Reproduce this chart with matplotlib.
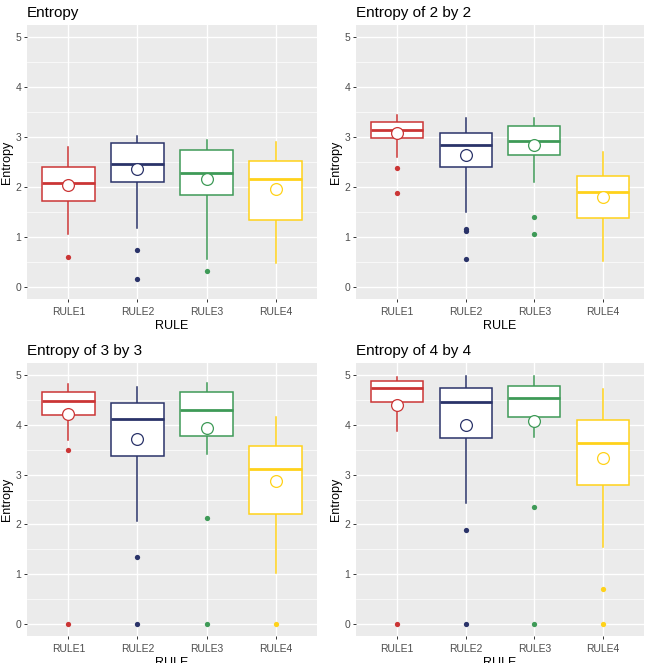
import numpy as np
import matplotlib.pyplot as plt

plt.rcParams['font.family'] = ['Liberation Sans', 'DejaVu Sans']

rules = ['RULE1', 'RULE2', 'RULE3', 'RULE4']
titles = ['Entropy', 'Entropy of 2 by 2', 'Entropy of 3 by 3', 'Entropy of 4 by 4']
colors = ['#CB3535', '#2A3369', '#3E9A57', '#FFD21A']

# one row per panel, one value per rule
whisker_low = [[1.06, 1.17, 0.56, 0.47],
               [2.60, 1.50, 2.10, 0.52],
               [3.69, 2.06, 3.42, 1.01],
               [3.89, 2.43, 3.76, 1.54]]
q1 = [[1.72, 2.10, 1.83, 1.34],
      [2.98, 2.39, 2.64, 1.38],
      [4.21, 3.37, 3.77, 2.21],
      [4.47, 3.74, 4.16, 2.80]]
medians = [[2.08, 2.46, 2.27, 2.15],
           [3.15, 2.84, 2.92, 1.90],
           [4.48, 4.12, 4.31, 3.12],
           [4.74, 4.46, 4.55, 3.63]]
q3 = [[2.39, 2.89, 2.75, 2.52],
      [3.30, 3.08, 3.22, 2.21],
      [4.67, 4.45, 4.66, 3.57],
      [4.88, 4.74, 4.79, 4.11]]
whisker_high = [[2.81, 3.03, 2.94, 2.91],
                [3.45, 3.38, 3.38, 2.71],
                [4.83, 4.77, 4.85, 4.16],
                [4.96, 4.99, 4.99, 4.73]]
means = [[2.04, 2.35, 2.15, 1.96],
         [3.09, 2.65, 2.85, 1.79],
         [4.22, 3.72, 3.94, 2.87],
         [4.41, 4.01, 4.08, 3.33]]
outliers = [[[0.60], [0.74, 0.16], [0.32], []],
            [[2.38, 1.87], [1.16, 1.12, 0.55], [1.40, 1.05], []],
            [[3.49, 0.0], [1.35, 0.0], [2.13, 0.0], [0.0]],
            [[0.0], [1.89, 0.0], [2.34, 0.0], [0.70, 0.0]]]

W, H = 648, 663
fig = plt.figure(figsize=(W / 100, H / 100), dpi=100)
fig.patch.set_facecolor('white')

# panel rectangles in pixels: left, top, width, height
rects = [(27, 25, 290, 274), (356, 25, 288, 274),
         (27, 363, 290, 273), (356, 363, 288, 273)]

for p in range(4):
    l, t, w, h = rects[p]
    ax = fig.add_axes([l / W, 1 - (t + h) / H, w / W, h / H])
    ax.set_facecolor('#EBEBEB')
    for s in ax.spines.values():
        s.set_visible(False)

    stats = []
    for i in range(4):
        stats.append(dict(whislo=whisker_low[p][i], q1=q1[p][i], med=medians[p][i],
                          q3=q3[p][i], whishi=whisker_high[p][i], fliers=[]))
    bp = ax.bxp(stats, positions=range(1, 5), widths=0.76, showcaps=False,
                showfliers=False, patch_artist=True, manage_ticks=False)
    for i in range(4):
        c = colors[i]
        bp['boxes'][i].set(facecolor='white', edgecolor=c, lw=1.1, zorder=3)
        bp['medians'][i].set(color=c, lw=2.0, zorder=4)
        for wl in bp['whiskers'][2 * i:2 * i + 2]:
            wl.set(color=c, lw=1.1, zorder=2)
        ys = outliers[p][i]
        ax.plot([i + 1] * len(ys), ys, 'o', color=c, ms=3.8, mew=0, zorder=5)
        ax.plot(i + 1, means[p][i], 'o', mfc='white', mec=c, ms=8.5, mew=0.9, zorder=6)

    ax.set_xlim(0.4, 4.6)
    ax.set_ylim(-0.25, 5.25)
    ax.set_yticks(range(6))
    ax.set_yticks(np.arange(0.5, 5, 1), minor=True)
    ax.set_xticks(range(1, 5))
    ax.set_xticklabels(rules)
    ax.grid(which='major', color='white', lw=1.0, zorder=0)
    ax.grid(which='minor', axis='y', color='white', lw=0.5, zorder=0)
    ax.set_axisbelow(True)
    ax.tick_params(which='major', length=2.5, width=0.7, color='#333333',
                   labelsize=7.5, labelcolor='#4D4D4D', pad=1.5)
    ax.tick_params(axis='x', which='major', pad=3)
    ax.tick_params(which='minor', length=0)

    ax.set_title(titles[p], loc='left', fontsize=11, color='black', pad=6)
    ax.set_xlabel('RULE', fontsize=9, labelpad=2.5)
    ax.set_ylabel('Entropy', fontsize=9, labelpad=2)

fig.savefig('out.png', dpi=100)
